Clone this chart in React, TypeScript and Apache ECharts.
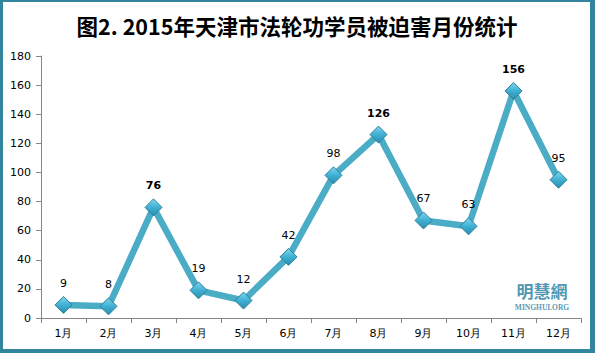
import React, { useEffect, useRef } from "react";
import * as echarts from "echarts";

const categories = ["1月", "2月", "3月", "4月", "5月", "6月", "7月", "8月", "9月", "10月", "11月", "12月"];
const values = [9, 8, 76, 19, 12, 42, 98, 126, 67, 63, 156, 95];
const boldValues = [76, 126, 156];
const yTicks = { min: 0, max: 180, interval: 20 };
const titleText = "图2. 2015年天津市法轮功学员被迫害月份统计";

export default function App() {
  const ref = useRef<HTMLDivElement>(null);
  useEffect(() => {
    document.body.style.margin = "0";
    const chart = echarts.init(ref.current!, null, { renderer: "svg" });
    const frame = "#31859C";
    chart.setOption({
      animation: false,
      backgroundColor: frame,
      graphic: [
        { type: "rect", z: -10, shape: { x: 3, y: 2, width: 587, height: 347 }, style: { fill: "#ffffff" } },
        {
          type: "text", x: 297, y: 25,
          style: { text: titleText, fontSize: 21.5, fontWeight: "bold", fill: "#000", fontFamily: "Noto Sans CJK SC", textAlign: "center", textVerticalAlign: "middle" },
        },
        {
          type: "text", x: 542, y: 290,
          style: { text: "明慧網", fontSize: 17, fontWeight: "bold", fill: "#4F97B3", fontFamily: "Noto Sans CJK TC", textAlign: "center", textVerticalAlign: "middle", letterSpacing: 3 },
        },
        {
          type: "text", x: 542, y: 307,
          style: { text: "MINGHUI.ORG", fontSize: 7.5, fontWeight: "bold", fill: "#5A9AB5", fontFamily: "Liberation Serif", textAlign: "center", textVerticalAlign: "middle" },
        },
      ],
      grid: { left: 41, right: 14, top: 56, bottom: 35, containLabel: false },
      xAxis: {
        type: "category",
        data: categories,
        boundaryGap: true,
        axisLine: { lineStyle: { color: "#868686", width: 1 } },
        axisTick: { show: true, alignWithLabel: false, length: 5, lineStyle: { color: "#868686" } },
        axisLabel: { color: "#000", fontSize: 11, fontFamily: "DejaVu Sans", margin: 10 },
      },
      yAxis: {
        type: "value",
        min: yTicks.min,
        max: yTicks.max,
        interval: yTicks.interval,
        splitLine: { show: false },
        axisLine: { show: true, lineStyle: { color: "#868686", width: 1 } },
        axisTick: { show: true, length: 5, lineStyle: { color: "#868686" } },
        axisLabel: { color: "#000", fontSize: 11, fontFamily: "DejaVu Sans", margin: 10 },
      },
      series: [
        {
          type: "line",
          data: values.map((v) => ({
            value: v,
            label: { fontWeight: boldValues.includes(v) ? "bold" : "normal" },
          })),
          lineStyle: { color: "#4BACC6", width: 6.5 },
          symbol: "diamond",
          symbolSize: 17,
          itemStyle: {
            color: new echarts.graphic.LinearGradient(0, 0, 0, 1, [
              { offset: 0, color: "#7FD6EF" },
              { offset: 0.5, color: "#3FB0D3" },
              { offset: 1, color: "#2A8DB0" },
            ]),
            borderColor: "#2E7F99",
            borderWidth: 1,
          },
          label: {
            show: true,
            position: "top",
            distance: 7,
            color: "#000",
            fontSize: 11,
            fontFamily: "DejaVu Sans",
          },
        },
      ],
    });
    return () => chart.dispose();
  }, []);
  return <div ref={ref} style={{ width: 595, height: 353 }} />;
}
